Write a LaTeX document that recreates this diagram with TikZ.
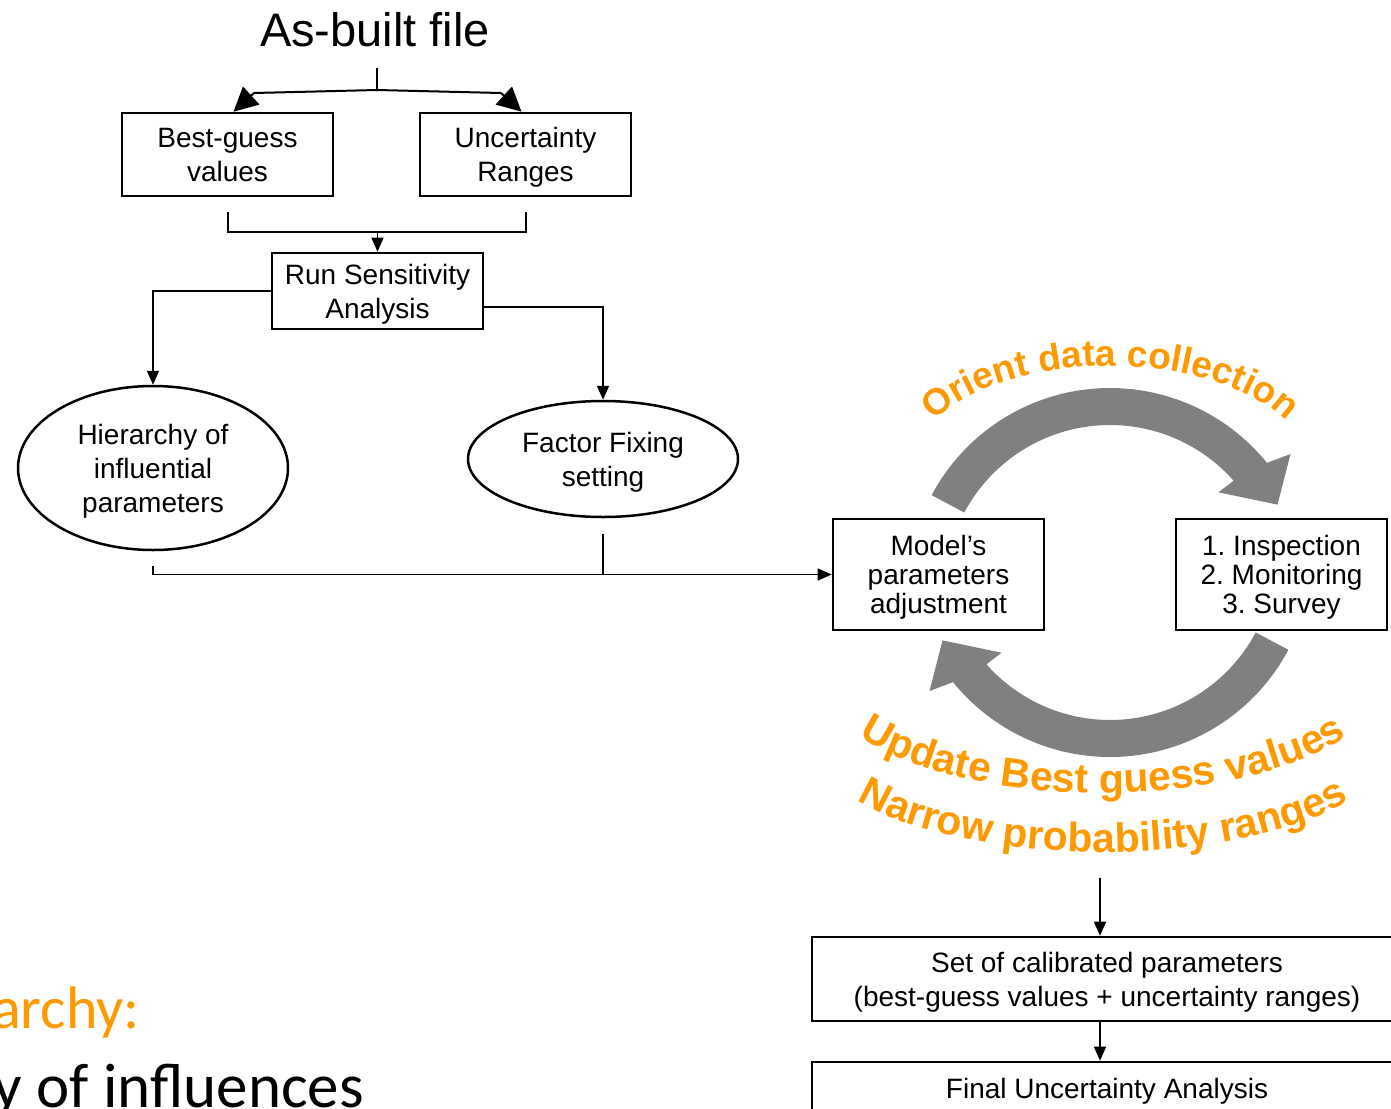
\documentclass[tikz,border=0pt]{standalone}
\usepackage{fontspec}
\setmainfont{Liberation Sans}
\newfontfamily\carlito{Carlito}
\usetikzlibrary{arrows.meta,shapes.geometric,calc,decorations.text}
\definecolor{orangeC}{RGB}{255,153,0}
\definecolor{grayC}{RGB}{128,128,128}
\frenchspacing
\begin{document}
\begin{tikzpicture}[x=1pt,y=-1pt,
  box/.style={draw,line width=2.6pt,inner sep=0pt,align=center,minimum width=211,text depth=0pt,font=\fontsize{28}{34}\selectfont},
  ell/.style={draw,ellipse,line width=2.5pt,inner sep=0pt,align=center,minimum width=270,text depth=0pt,font=\fontsize{28}{34}\selectfont},
  conn/.style={line width=1.5pt},
  arr/.style={line width=1.5pt,-{Triangle[length=14pt,width=12pt]}},
  bigarr/.style={line width=2pt,-{Triangle[length=24pt,width=24pt]}},
  grayarrow/.style={fill=grayC},
  arctext/.style={decorate,decoration={text along path,text align=center,#1}}
]
\useasboundingbox (0,0) rectangle (1391,1108);

% title
\node[anchor=base,inner sep=0pt,font=\fontsize{47}{47}\selectfont] (asb) at (375,47) {As-built file};

% boxes
\node[box,minimum height=83] (bg) at (227.5,154.5) {Best-guess\\values};
\node[box,minimum height=83] (ur) at (525.5,154.5) {Uncertainty\\Ranges};
\node[box,minimum height=76] (rsa) at (377.5,291) {Run Sensitivity\\Analysis};
\node[ell,minimum height=164] (e1) at (153,468) {Hierarchy of\\influential\\parameters};
\node[ell,minimum height=116] (e2) at (603,459) {Factor Fixing\\setting};
\node[box,minimum height=111,font=\fontsize{28}{29}\selectfont] (model) at (938.5,574.5) {Model’s\\parameters\\adjustment};
\node[box,minimum height=111,font=\fontsize{28}{29}\selectfont] (insp) at (1281.5,574.5) {1. Inspection\\2. Monitoring\\3. Survey};
\node[box,minimum width=590,minimum height=84] (calib) at (1107,979) {Set of calibrated parameters\\(best-guess values + uncertainty ranges)};
\node[box,minimum width=590,minimum height=52] (final) at (1107,1088) {Final Uncertainty Analysis};

% top connectors
\coordinate (j0) at (377,68);
\coordinate (j1) at (377,90);
\draw[conn] (j0) -- (j1);
\draw[bigarr] (j1) -- (254,93) -- ([xshift=6]bg.north);
\draw[bigarr] (j1) -- (501,93) -- ([xshift=-4]ur.north);

\coordinate (b1) at (228,212);
\coordinate (b2) at (526,212);
\coordinate (m) at (377.5,232);
\draw[conn] (b1) |- (m) -| (b2);
\draw[arr] (m) -- (rsa.north);

\draw[arr] (rsa.west) -| (e1.north);
\draw[arr] ([yshift=-16]rsa.east) -| (e2.north);

\coordinate (f1) at (153,566);
\coordinate (f2) at (603,534);
\draw[arr] (f1) |- (model.west);
\draw[conn] (f2) -- (f2 |- model.west);

\coordinate (c1) at (1100,878);
\draw[arr] (c1) -- (c1 |- calib.north);
\draw[arr] (c1 |- calib.south) -- (c1 |- final.north);

% gray cycle arrows
\coordinate (T) at (1110,590);
\coordinate (B) at (1110,555);
\fill[grayarrow] ($(T)+(208:202)$) arc[start angle=208,end angle=321,radius=202]
  -- ($(T)+(323:226)$) -- ($(T)+(333:188)$) -- ($(T)+(318:146)$) -- ($(T)+(318.5:165)$)
  arc[start angle=318.5,end angle=208,radius=165] -- cycle;
\fill[grayarrow] ($(B)+(28:202)$) arc[start angle=28,end angle=141,radius=202]
  -- ($(B)+(143:226)$) -- ($(B)+(153:188)$) -- ($(B)+(138:146)$) -- ($(B)+(138.5:165)$)
  arc[start angle=138.5,end angle=28,radius=165] -- cycle;

% orange arc texts
\coordinate (TT) at (1110,471);
\coordinate (BT1) at (1103,676);
\coordinate (BT2) at (1103,747);
\path[arctext={text={|\color{orangeC}\bfseries\fontsize{37}{37}\selectfont|Orient data collection}}]
  ($(TT)+(185:200 and 105)$) arc[start angle=185,end angle=355,x radius=200,y radius=105];
\path[arctext={text={|\color{orangeC}\bfseries\fontsize{41}{41}\selectfont|Update Best guess values}}]
  ($(BT1)+(178:285 and 117)$) arc[start angle=178,end angle=2,x radius=285,y radius=117];
\path[arctext={text={|\color{orangeC}\bfseries\fontsize{41}{41}\selectfont|Narrow probability ranges}}]
  ($(BT2)+(178:285 and 105)$) arc[start angle=178,end angle=2,x radius=285,y radius=105];

% cut-off slide text
\node[anchor=base east,inner sep=0pt,text=orangeC,font=\carlito\fontsize{60}{60}\selectfont] (h1) at (140,1028) {archy:};
\node[anchor=base east,inner sep=0pt,font=\carlito\fontsize{63}{63}\selectfont] (h2) at (364,1107) {y of influences};
\end{tikzpicture}
\end{document}
